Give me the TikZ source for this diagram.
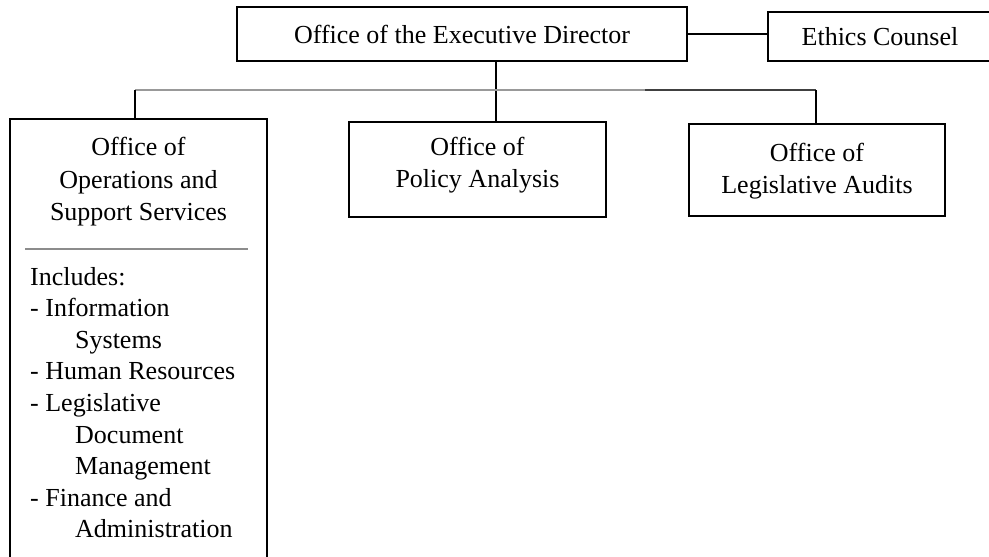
\documentclass[tikz,border=0pt]{standalone}
\usepackage{fontspec}
\setmainfont{Liberation Serif}
\begin{document}
\begin{tikzpicture}[x=1pt,y=-1pt,
  box/.style={draw, line width=1.8pt, inner sep=0pt},
  lbl/.style={anchor=base, inner sep=0pt, font=\fontsize{26}{32}\selectfont},
  itm/.style={anchor=base west, inner sep=0pt, font=\fontsize{26}{32}\selectfont},
  link/.style={line width=1.5pt}]
\clip (0,0) rectangle (989,557);
\fill[white] (0,0) rectangle (989,557);
% boxes
\node[box, minimum width=450, minimum height=54] (exec) at (462,34) {};
\node[box, minimum width=224, minimum height=49] (ethics) at (880,36.5) {};
\node[box, minimum width=257, minimum height=439] (ops) at (138.5,338.5) {};
\node[box, minimum width=257, minimum height=95] (policy) at (477.5,169.5) {};
\node[box, minimum width=256, minimum height=92] (audits) at (817,170) {};
% texts
\node[lbl] (t1) at (462,43) {Office of the Executive Director};
\node[lbl] (t2) at (880,45) {Ethics Counsel};
\node[lbl] (o1) at (138.5,155) {Office of};
\node[lbl] (o2) at (138.5,188) {Operations and};
\node[lbl] (o3) at (138.5,220) {Support Services};
\node[lbl] (p1) at (477.5,155) {Office of};
\node[lbl] (p2) at (477.5,187) {Policy Analysis};
\node[lbl] (a1) at (817,161) {Office of};
\node[lbl] (a2) at (817,193) {Legislative Audits};
\draw[black!45, line width=1.3pt] (25,249) -- (248,249);
\node[itm] (l1) at (30,285) {Includes:};
\node[itm] (l2) at (30,316.6) {- Information};
\node[itm] (l3) at (75,348.2) {Systems};
\node[itm] (l4) at (30,379.8) {- Human Resources};
\node[itm] (l5) at (30,411.4) {- Legislative};
\node[itm] (l6) at (75,443) {Document};
\node[itm] (l7) at (75,474.6) {Management};
\node[itm] (l8) at (30,506.2) {- Finance and};
\node[itm] (l9) at (75,537.8) {Administration};
% connectors
\coordinate (bl) at (135,90);
\coordinate (j) at (496,90);
\coordinate (m) at (645,90);
\coordinate (br) at (816,90);
\draw[link] (exec.east) -- (exec.east -| ethics.west);
\draw[link] (exec.south -| j) -- (j |- policy.north);
\draw[black!40, line width=1.8pt] (bl) -- (m);
\draw[black!75, line width=1.4pt] (m) -- (br);
\draw[link] (bl) -- (bl |- ops.north);
\draw[link] (br) -- (br |- audits.north);
\end{tikzpicture}
\end{document}
